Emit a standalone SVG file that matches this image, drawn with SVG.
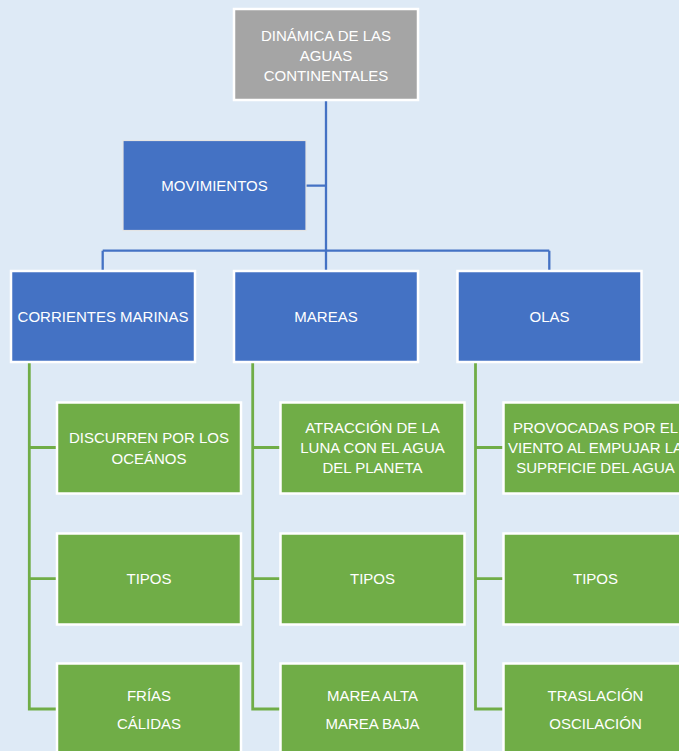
<svg xmlns="http://www.w3.org/2000/svg" width="679" height="751" viewBox="0 0 679 751">
<style>
text{font-family:"Liberation Sans",Arial,sans-serif;font-size:15px;fill:#ffffff;text-anchor:middle}
.gray{fill:#a5a5a5;stroke:#ffffff;stroke-width:2.5}
.blue{fill:#4472c4;stroke:#ffffff;stroke-width:2.5}
.mov{fill:#4472c4;stroke:#e4e4e4;stroke-width:1.2}
.green{fill:#70ad47;stroke:#ffffff;stroke-width:2.5}
.cb{fill:none;stroke:#4472c4;stroke-width:2.3}
.cg{fill:none;stroke:#70ad47;stroke-width:2.8}
</style>
<rect width="679" height="751" fill="#deeaf6"/>
<g id="connectors">
<path class="cb" d="M326,100 V251 M306,185.7 H326 M102.7,250.7 H549.3 M102.7,250.7 V270 M326,250.7 V270 M549.3,250.7 V270"/>
<path class="cg" d="M29.3,363 V709 H57 M29.3,447.5 H57 M29.3,578.7 H57"/>
<path class="cg" d="M252.7,363 V709 H281 M252.7,447.5 H281 M252.7,578.7 H281"/>
<path class="cg" d="M475.5,363 V709 H504 M475.5,447.5 H504 M475.5,578.7 H504"/>
</g>
<g id="root">
<rect class="gray" x="234" y="9" width="184" height="91"/>
<text x="326" y="40.5">DINÁMICA DE LAS</text>
<text x="326" y="61">AGUAS</text>
<text x="326" y="81">CONTINENTALES</text>
</g>
<g id="movimientos">
<rect class="mov" x="123" y="140.5" width="183" height="90"/>
<text x="214.5" y="190.5">MOVIMIENTOS</text>
</g>
<g id="corrientes">
<rect class="blue" x="11" y="271" width="184" height="91"/>
<text x="103" y="321.5">CORRIENTES MARINAS</text>
</g>
<g id="mareas">
<rect class="blue" x="234" y="271" width="184" height="91"/>
<text x="326" y="321.5">MAREAS</text>
</g>
<g id="olas">
<rect class="blue" x="457.5" y="271" width="184" height="91"/>
<text x="549.5" y="321.5">OLAS</text>
</g>
<g id="c1r1">
<rect class="green" x="57" y="402.5" width="184" height="91"/>
<text x="149" y="443.3">DISCURREN POR LOS</text>
<text x="149" y="464">OCEÁNOS</text>
</g>
<g id="c1r2">
<rect class="green" x="57" y="533.5" width="184" height="91"/>
<text x="149" y="584">TIPOS</text>
</g>
<g id="c1r3">
<rect class="green" x="57" y="663.5" width="184" height="91"/>
<text x="149" y="701">FRÍAS</text>
<text x="149" y="729">CÁLIDAS</text>
</g>
<g id="c2r1">
<rect class="green" x="280.5" y="402.5" width="184" height="91"/>
<text x="372.5" y="432.7">ATRACCIÓN DE LA</text>
<text x="372.5" y="453.3">LUNA CON EL AGUA</text>
<text x="372.5" y="473.3">DEL PLANETA</text>
</g>
<g id="c2r2">
<rect class="green" x="280.5" y="533.5" width="184" height="91"/>
<text x="372.5" y="584">TIPOS</text>
</g>
<g id="c2r3">
<rect class="green" x="280.5" y="663.5" width="184" height="91"/>
<text x="372.5" y="701">MAREA ALTA</text>
<text x="372.5" y="729">MAREA BAJA</text>
</g>
<g id="c3r1">
<rect class="green" x="503.5" y="402.5" width="184" height="91"/>
<text x="595.5" y="432.7">PROVOCADAS POR EL</text>
<text x="595.5" y="453.3">VIENTO AL EMPUJAR LA</text>
<text x="595.5" y="473.3">SUPRFICIE DEL AGUA</text>
</g>
<g id="c3r2">
<rect class="green" x="503.5" y="533.5" width="184" height="91"/>
<text x="595.5" y="584">TIPOS</text>
</g>
<g id="c3r3">
<rect class="green" x="503.5" y="663.5" width="184" height="91"/>
<text x="595.5" y="701">TRASLACIÓN</text>
<text x="595.5" y="729">OSCILACIÓN</text>
</g>
</svg>
